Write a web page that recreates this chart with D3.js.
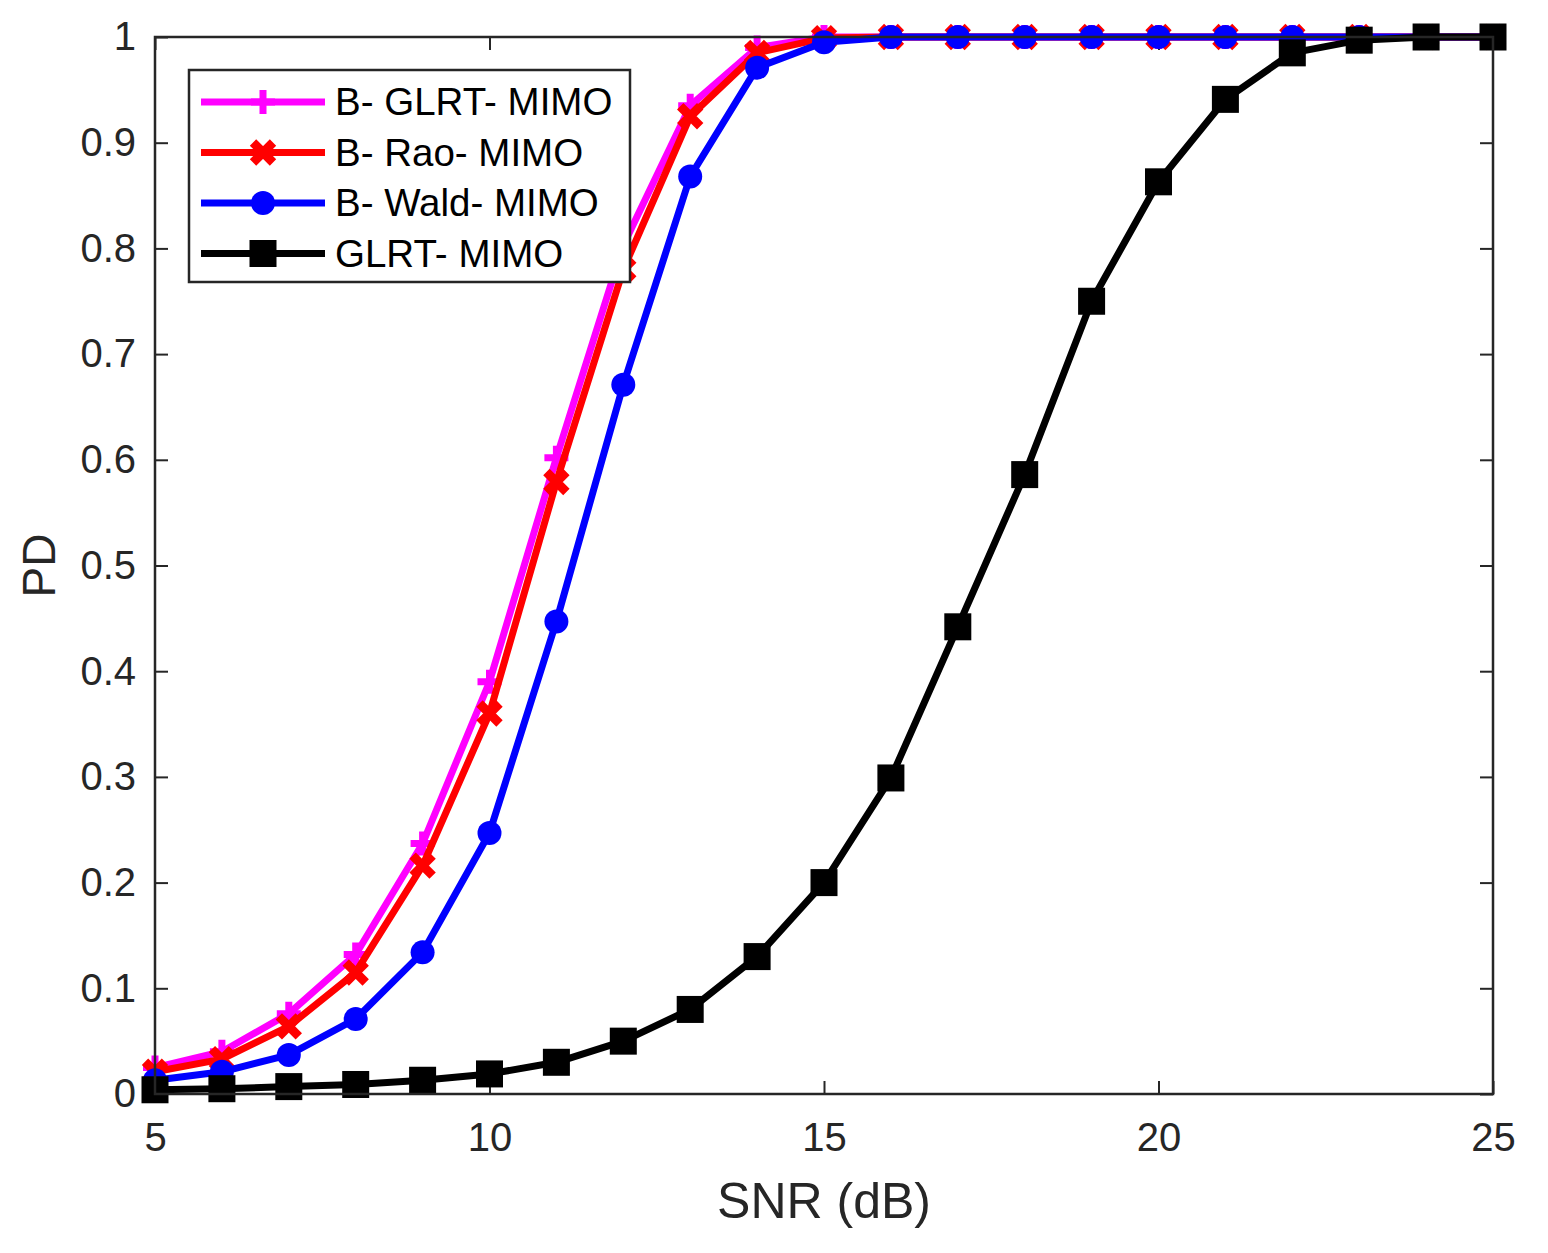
<!DOCTYPE html>
<html>
<head>
<meta charset="utf-8">
<script src="https://cdn.jsdelivr.net/npm/d3@7"></script>
<style>
  body { margin: 0; background: #fff; }
  svg text { font-family: "Liberation Sans", Arial, Helvetica, sans-serif; fill: #262626; }
</style>
</head>
<body>
<div class="chart"></div>
<script>
var snr = [5, 6, 7, 8, 9, 10, 11, 12, 13, 14, 15, 16, 17, 18, 19, 20, 21, 22, 23, 24, 25];

var bGlrt = [0.025, 0.040, 0.076, 0.132, 0.237, 0.390, 0.602, 0.803, 0.935, 0.990, 1.000, 1, 1, 1, 1, 1, 1, 1, 1, 1, 1];
var bRao  = [0.021, 0.033, 0.064, 0.115, 0.216, 0.360, 0.579, 0.780, 0.925, 0.985, 0.999, 1, 1, 1, 1, 1, 1, 1, 1, 1, 1];
var bWald = [0.013, 0.021, 0.037, 0.071, 0.134, 0.247, 0.447, 0.671, 0.868, 0.971, 0.995, 1, 1, 1, 1, 1, 1, 1, 1, 1, 1];
var glrt  = [0.004, 0.005, 0.007, 0.009, 0.013, 0.019, 0.030, 0.050, 0.080, 0.130, 0.200, 0.299, 0.442, 0.586, 0.750, 0.863, 0.941, 0.985, 0.997, 1.000, 1.000];

var seriesNames = ["B- GLRT- MIMO", "B- Rao- MIMO", "B- Wald- MIMO", "GLRT- MIMO"];
var xTicks = [5, 10, 15, 20, 25];
var yTicks = [0, 0.1, 0.2, 0.3, 0.4, 0.5, 0.6, 0.7, 0.8, 0.9, 1];

var series = [
    {name: seriesNames[0], values: bGlrt, color: "#ff00ff", marker: "plus"},
    {name: seriesNames[1], values: bRao, color: "#ff0000", marker: "x"},
    {name: seriesNames[2], values: bWald, color: "#0000ff", marker: "circle"},
    {name: seriesNames[3], values: glrt, color: "#000000", marker: "square"}
];

var margin = {top: 37, right: 55, bottom: 159, left: 155};
var width = 1548 - margin.left - margin.right;
var height = 1253 - margin.top - margin.bottom;

var svg = d3.select(".chart")
    .append("svg")
    .attr("width", 1548)
    .attr("height", 1253)
    .append("g")
    .attr("transform", "translate(" + margin.left + "," + margin.top + ")");

var xScale = d3.scaleLinear().domain([5, 25]).range([0, width]);
var yScale = d3.scaleLinear().domain([0, 1]).range([height, 0]);

// axes: ticks pointing inward, box drawn around
var axisColor = "#262626";
var tickLen = 13;

var xAxis = d3.axisBottom(xScale).tickValues(xTicks).tickSize(-tickLen).tickPadding(29).tickFormat(d3.format("d"));
var yAxis = d3.axisLeft(yScale).tickValues(yTicks).tickSize(-tickLen).tickPadding(19)
    .tickFormat(function(d) { return d === 0 || d === 1 ? d3.format("d")(d) : d3.format(".1f")(d); });
var xAxisTop = d3.axisTop(xScale).tickValues(xTicks).tickSize(-tickLen).tickFormat("");
var yAxisRight = d3.axisRight(yScale).tickValues(yTicks).tickSize(-tickLen).tickFormat("");

function styleAxis(g) {
    g.select(".domain").remove();
    g.selectAll(".tick line").attr("stroke", axisColor).attr("stroke-width", 2);
    g.selectAll(".tick text").attr("font-size", 40).attr("fill", axisColor)
        .style("font-family", "'Liberation Sans', Arial, sans-serif");
}

svg.append("g").attr("transform", "translate(0," + height + ")").call(xAxis).call(styleAxis);
svg.append("g").call(yAxis).call(styleAxis);
svg.append("g").call(xAxisTop).call(styleAxis);
svg.append("g").attr("transform", "translate(" + width + ",0)").call(yAxisRight).call(styleAxis);

var line = d3.line()
    .x(function(d, i) { return xScale(snr[i]); })
    .y(function(d) { return yScale(d); });

function drawMarker(g, type, color) {
    if (type === "plus") {
        g.append("path").attr("d", "M-12,0H12M0,-12V12")
            .attr("stroke", color).attr("stroke-width", 7).attr("fill", "none");
    } else if (type === "x") {
        g.append("path").attr("d", "M-10,-10L10,10M-10,10L10,-10")
            .attr("stroke", color).attr("stroke-width", 9).attr("fill", "none");
    } else if (type === "circle") {
        g.append("circle").attr("r", 12).attr("fill", color);
    } else if (type === "square") {
        g.append("rect").attr("x", -13.5).attr("y", -13.5).attr("width", 27).attr("height", 27)
            .attr("fill", color);
    }
}

var plot = svg.append("g");

series.forEach(function(s) {
    plot.append("path")
        .datum(s.values)
        .attr("fill", "none")
        .attr("stroke", s.color)
        .attr("stroke-width", 7)
        .attr("stroke-linejoin", "round")
        .attr("d", line);

    s.values.forEach(function(v, i) {
        var g = plot.append("g")
            .attr("transform", "translate(" + xScale(snr[i]) + "," + yScale(v) + ")");
        drawMarker(g, s.marker, s.color);
    });
});

// box
svg.append("rect")
    .attr("x", 0).attr("y", 0)
    .attr("width", width).attr("height", height)
    .attr("fill", "none").attr("stroke", axisColor).attr("stroke-width", 2.5);

// axis labels
svg.append("text")
    .attr("x", width / 2)
    .attr("y", height + 124)
    .attr("text-anchor", "middle")
    .attr("font-size", 50)
    .text("SNR (dB)");

svg.append("text")
    .attr("transform", "rotate(-90)")
    .attr("x", -height / 2)
    .attr("y", -100)
    .attr("text-anchor", "middle")
    .attr("font-size", 46)
    .text("PD");

// legend
var legend = svg.append("g").attr("transform", "translate(" + (189 - margin.left) + "," + (70 - margin.top) + ")");

legend.append("rect")
    .attr("width", 441).attr("height", 212)
    .attr("fill", "#fff").attr("stroke", axisColor).attr("stroke-width", 2.5);

series.forEach(function(s, i) {
    var row = legend.append("g").attr("transform", "translate(0," + (32 + i * 50.5) + ")");
    row.append("line")
        .attr("x1", 12).attr("x2", 136)
        .attr("stroke", s.color).attr("stroke-width", 7);
    drawMarker(row.append("g").attr("transform", "translate(74,0)"), s.marker, s.color);
    row.append("text")
        .attr("x", 146)
        .attr("y", 13)
        .attr("font-size", 38.5)
        .style("fill", "#000")
        .text(s.name);
});
</script>
</body>
</html>
